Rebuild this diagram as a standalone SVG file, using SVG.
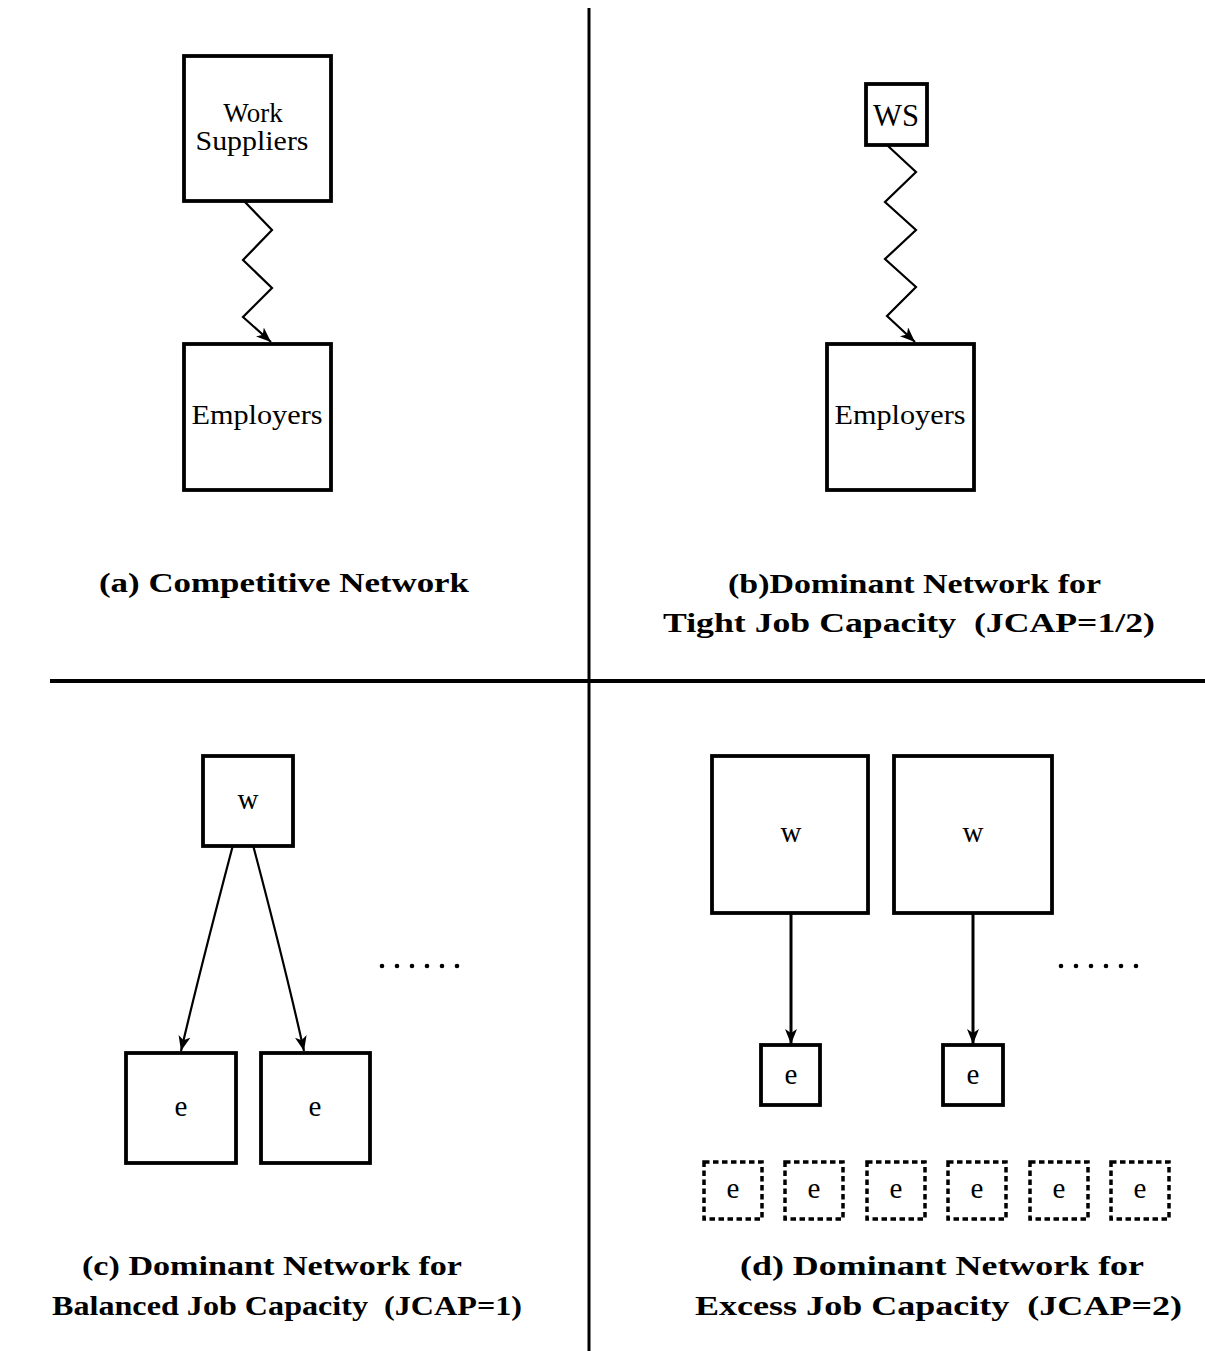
<svg xmlns="http://www.w3.org/2000/svg" width="1205" height="1351" viewBox="0 0 1205 1351">
<style>
.box{fill:#fff;stroke:#000;stroke-width:3.8}
.dbox{fill:#fff;stroke:#000;stroke-width:3.5;stroke-dasharray:5.5 3.5}
text{font-family:'Liberation Serif','Times New Roman','DejaVu Serif',serif;fill:#000}
.lbl{font-size:28px;text-anchor:middle}
.sm{font-size:29px;text-anchor:middle}
.cap{font-size:28px;font-weight:bold}
.conn{fill:none;stroke:#000;stroke-width:2.2}
.div{stroke:#000;fill:none}
</style>
<defs>
<marker id="ah" markerUnits="userSpaceOnUse" markerWidth="16" markerHeight="12" refX="15" refY="6" orient="auto" viewBox="0 0 16 12">
<path d="M0,0 L15,6 L0,12 L4,6 z" fill="#000"/>
</marker>
</defs>
<g id="dividers">
<line class="div" x1="589" y1="8" x2="589" y2="1351" stroke-width="3"/>
<line class="div" x1="50" y1="681" x2="1205" y2="681" stroke-width="4"/>
</g>
<g id="connectors">
<polyline class="conn" points="243,200 272,230 243,260 272,288 243,317 271,342" marker-end="url(#ah)"/>
<polyline class="conn" points="888,146 916,172 885,202 916,230 885,259 916,287 887,316 915,342" marker-end="url(#ah)"/>
<path class="conn" d="M233,845 Q200,970 181,1051" marker-end="url(#ah)"/>
<path class="conn" d="M253,845 Q286,970 304,1051" marker-end="url(#ah)"/>
<line class="conn" style="stroke-width:3" x1="791" y1="913" x2="791" y2="1044" marker-end="url(#ah)"/>
<line class="conn" style="stroke-width:3" x1="973" y1="913" x2="973" y2="1044" marker-end="url(#ah)"/>
</g>
<g id="a-work-suppliers">
<rect class="box" x="184" y="56" width="147" height="145"/>
<text class="lbl" x="253" y="122" style="font-size:27px">Work</text>
<text class="lbl" x="252" y="150" style="font-size:27px" textLength="113" lengthAdjust="spacingAndGlyphs">Suppliers</text>
</g>
<g id="a-employers">
<rect class="box" x="184" y="344" width="147" height="146"/>
<text class="lbl" x="257" y="424" textLength="131" lengthAdjust="spacingAndGlyphs">Employers</text>
</g>
<g id="b-ws">
<rect class="box" x="866" y="84" width="61" height="61"/>
<text class="lbl" x="896" y="126" style="font-size:31px" textLength="46" lengthAdjust="spacingAndGlyphs">WS</text>
</g>
<g id="b-employers">
<rect class="box" x="827" y="344" width="147" height="146"/>
<text class="lbl" x="900" y="424" textLength="131" lengthAdjust="spacingAndGlyphs">Employers</text>
</g>
<g id="c-w">
<rect class="box" x="203" y="756" width="90" height="90"/>
<text class="sm" x="248" y="809">w</text>
</g>
<g id="c-e1">
<rect class="box" x="126" y="1053" width="110" height="110"/>
<text class="sm" x="181" y="1116">e</text>
</g>
<g id="c-e2">
<rect class="box" x="261" y="1053" width="109" height="110"/>
<text class="sm" x="315" y="1116">e</text>
</g>
<g id="c-dots" fill="#000">
<circle cx="382" cy="966" r="2.3"/><circle cx="397" cy="966" r="2.3"/><circle cx="412" cy="966" r="2.3"/><circle cx="427" cy="966" r="2.3"/><circle cx="442" cy="966" r="2.3"/><circle cx="457" cy="966" r="2.3"/>
</g>
<g id="d-w1">
<rect class="box" x="712" y="756" width="156" height="157"/>
<text class="sm" x="791" y="842">w</text>
</g>
<g id="d-w2">
<rect class="box" x="894" y="756" width="158" height="157"/>
<text class="sm" x="973" y="842">w</text>
</g>
<g id="d-e1">
<rect class="box" x="761" y="1045" width="59" height="60"/>
<text class="sm" x="791" y="1084">e</text>
</g>
<g id="d-e2">
<rect class="box" x="943" y="1045" width="60" height="60"/>
<text class="sm" x="973" y="1084">e</text>
</g>
<g id="d-dots" fill="#000">
<circle cx="1061" cy="966" r="2.3"/><circle cx="1076" cy="966" r="2.3"/><circle cx="1091" cy="966" r="2.3"/><circle cx="1106" cy="966" r="2.3"/><circle cx="1121" cy="966" r="2.3"/><circle cx="1136" cy="966" r="2.3"/>
</g>
<g id="d-unused">
<rect class="dbox" x="704" y="1162" width="58" height="57"/><text class="sm" x="733" y="1198">e</text>
<rect class="dbox" x="785" y="1162" width="58" height="57"/><text class="sm" x="814" y="1198">e</text>
<rect class="dbox" x="867" y="1162" width="58" height="57"/><text class="sm" x="896" y="1198">e</text>
<rect class="dbox" x="948" y="1162" width="58" height="57"/><text class="sm" x="977" y="1198">e</text>
<rect class="dbox" x="1030" y="1162" width="58" height="57"/><text class="sm" x="1059" y="1198">e</text>
<rect class="dbox" x="1111" y="1162" width="58" height="57"/><text class="sm" x="1140" y="1198">e</text>
</g>
<g id="captions">
<text class="cap" x="99" y="592" textLength="370" lengthAdjust="spacingAndGlyphs">(a) Competitive Network</text>
<text class="cap" x="728" y="593" textLength="373" lengthAdjust="spacingAndGlyphs">(b)Dominant Network for</text>
<text class="cap" x="663" y="632" textLength="492" lengthAdjust="spacingAndGlyphs">Tight Job Capacity&#160; (JCAP=1/2)</text>
<text class="cap" x="82" y="1275" textLength="380" lengthAdjust="spacingAndGlyphs">(c) Dominant Network for</text>
<text class="cap" x="52" y="1315" textLength="470" lengthAdjust="spacingAndGlyphs">Balanced Job Capacity&#160; (JCAP=1)</text>
<text class="cap" x="740" y="1275" textLength="404" lengthAdjust="spacingAndGlyphs">(d) Dominant Network for</text>
<text class="cap" x="695" y="1315" textLength="487" lengthAdjust="spacingAndGlyphs">Excess Job Capacity&#160; (JCAP=2)</text>
</g>
</svg>
